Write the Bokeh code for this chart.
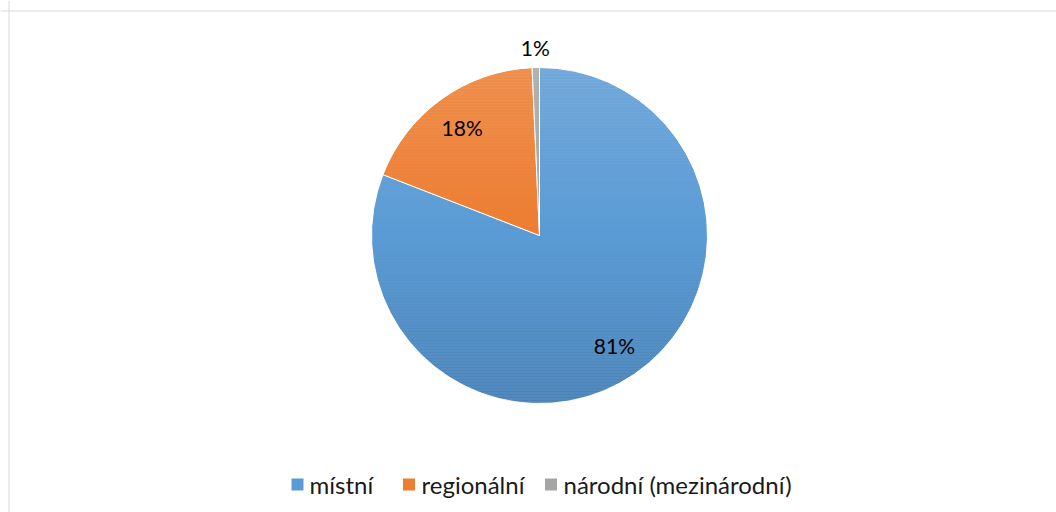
import numpy as np
from bokeh.plotting import figure
from bokeh.models import Range1d, Span, ColumnDataSource
from bokeh.core.properties import value
from bokeh.embed import file_html
from bokeh.resources import INLINE

# ---- data ----
categories = ["místní", "regionální", "národní (mezinárodní)"]
shares = [80.9, 18.4, 0.7]
labels = ["81%", "18%", "1%"]
colors = ["#5B9BD5", "#ED7D31", "#A5A5A5"]

# ---- layout (page pixel coordinates, y downward -> negative) ----
W, H = 1056, 512
cx, cy, r = 539, -235, 168
FONT = "Lato"

p = figure(width=W, height=H, output_backend="svg", toolbar_location=None,
           x_range=Range1d(0, W), y_range=Range1d(-H, 0),
           min_border=0)
p.axis.visible = False
p.grid.visible = False
p.outline_line_color = None
p.background_fill_color = "white"
p.border_fill_color = "white"

vals = np.array(shares, dtype=float)
frac = vals / vals.sum()
cum_end = np.cumsum(frac)
cum_start = cum_end - frac
start = np.pi / 2 - 2 * np.pi * cum_start
end = np.pi / 2 - 2 * np.pi * cum_end

src = ColumnDataSource(dict(start=start, end=end, color=colors, cat=categories))
p.wedge(x=cx, y=cy, radius=r, start_angle="start", end_angle="end",
        direction="clock", fill_color="color", line_color="white",
        line_width=1, source=src)

# gradient shading overlay (lighter top, darker bottom), masked to the circle
n = 112
ys = cy + r - (np.arange(n) + 0.5) * (2 * r / n)
t = np.arange(n) / (n - 1)
s = 1 - 2 * t
band_colors = ["white" if v > 0 else "black" for v in s]
band_alpha = [0.13 * v if v > 0 else 0.11 * (-v) for v in s]
p.hbar(y=ys, height=2 * r / n + 0.3, left=cx - r - 2, right=cx + r + 2,
       fill_color=band_colors, fill_alpha=band_alpha, line_color=None)
p.annulus(x=cx, y=cy, inner_radius=r, outer_radius=r * 1.6,
          fill_color="white", line_color=None)

# data labels
mid = (cum_start + cum_end) / 2
lab_r = np.array([0.79 * r, 0.79 * r, 1.12 * r])
lx = cx + lab_r * np.sin(2 * np.pi * mid)
ly = cy + lab_r * np.cos(2 * np.pi * mid)
p.text(x=lx, y=ly, text=labels, text_align="center", text_baseline="middle",
       text_font=value(FONT), text_font_size="21px", text_color="#000000")

# chart-area border (top and left visible)
p.add_layout(Span(location=-10.5, dimension="width", line_color="#D9D9D9", line_width=1))
p.add_layout(Span(location=8.5, dimension="height", line_color="#D9D9D9", line_width=1))

# legend
sq_x = [297, 408.5, 550.5]
tx = [309, 421, 563]
ly_leg = -484
p.rect(x=sq_x, y=[ly_leg] * 3, width=12, height=12, fill_color=colors, line_color=None)
p.text(x=tx, y=[ly_leg] * 3, text=categories, text_align="left", text_baseline="middle",
       text_font=value(FONT), text_font_size="24px", text_color="#1a1a1a")

open("out.html", "w").write(file_html(p, INLINE))
